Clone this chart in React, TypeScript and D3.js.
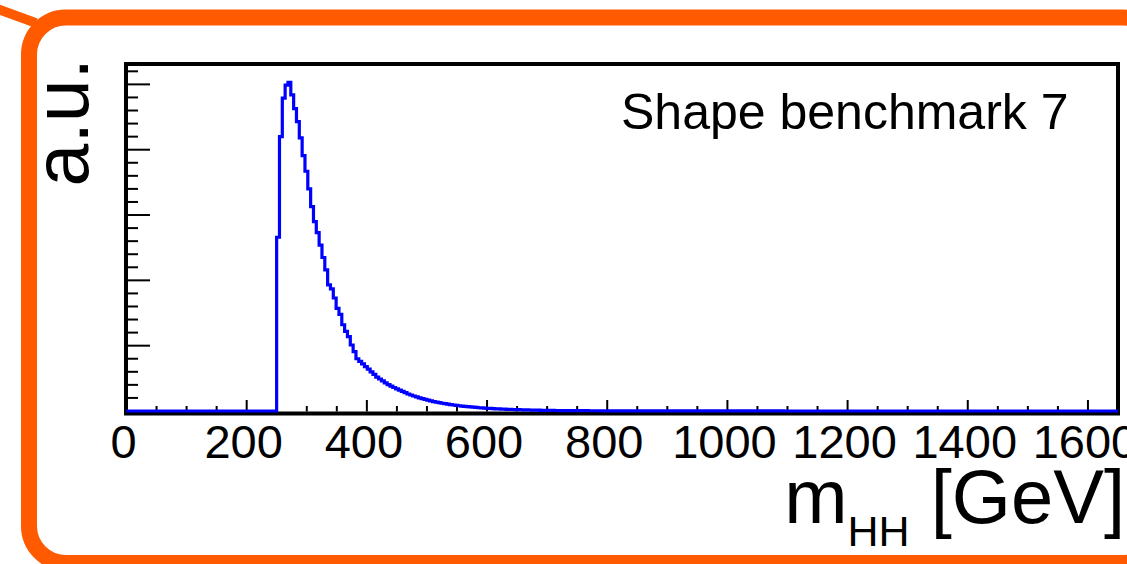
import React from 'react';
import * as d3 from 'd3';

// ---- Data (arbitrary units) ----
const X_MIN = 0;
const X_MAX = 1650;
const N_BINS = 350;
const FIRST_FILLED_BIN = 53; // bins below the 2*m_H threshold are empty

// bins 53 – 81
const peakValues = [
  2.66, 4.2, 4.79, 4.99, 5.03, 4.84, 4.63, 4.43, 4.18, 3.91,
  3.67, 3.4, 3.13, 2.9, 2.73, 2.54, 2.35, 2.16, 1.93, 1.87,
  1.73, 1.57, 1.48, 1.32, 1.22, 1.14, 1.01, 0.91, 0.8,
];
// bins 82 – 171
const tailValues = [
  0.76, 0.72, 0.68, 0.64, 0.6, 0.56, 0.52, 0.49, 0.46, 0.43,
  0.405, 0.38, 0.36, 0.34, 0.32, 0.3, 0.28, 0.26, 0.245, 0.23,
  0.215, 0.2, 0.19, 0.178, 0.166, 0.155, 0.145, 0.136, 0.127, 0.119,
  0.112, 0.105, 0.098, 0.092, 0.086, 0.08, 0.075, 0.07, 0.066, 0.062,
  0.058, 0.054, 0.05, 0.047, 0.044, 0.041, 0.039, 0.036, 0.034, 0.032,
  0.03, 0.028, 0.026, 0.024, 0.023, 0.021, 0.02, 0.019, 0.017, 0.016,
  0.015, 0.014, 0.013, 0.012, 0.011, 0.011, 0.01, 0.009, 0.009, 0.008,
  0.008, 0.007, 0.007, 0.007, 0.006, 0.006, 0.006, 0.005, 0.005, 0.005,
  0.005, 0.004, 0.004, 0.004, 0.004, 0.004, 0.003, 0.003, 0.003, 0.003,
];
// bins 172 – 231
const farTailValues = [
  0.003, 0.003, 0.003, 0.002, 0.003, 0.002, 0.002, 0.002, 0.002, 0.002,
  0.002, 0.002, 0.002, 0.001, 0.002, 0.001, 0.001, 0.002, 0.001, 0.001,
  0.001, 0.001, 0.001, 0.001, 0.001, 0.001, 0.001, 0.001, 0.001, 0.001,
  0.001, 0.001, 0.001, 0.001, 0.001, 0.001, 0.0005, 0.001, 0.0005, 0.0005,
  0.0005, 0.0005, 0.0005, 0.0005, 0.0005, 0.0005, 0.0005, 0.0005, 0.0005, 0.0005,
  0.0005, 0.0005, 0.0005, 0.0005, 0.0005, 0.0005, 0.0005, 0.0005, 0.0005, 0.0005,
];

const xTickValues = [0, 200, 400, 600, 800, 1000, 1200, 1400, 1600];
const xTickLabels = ['0', '200', '400', '600', '800', '1000', '1200', '1400', '1600'];
const yTitle = 'a.u.';
const xTitleMain = 'm';
const xTitleSub = 'HH';
const xTitleUnit = '\u00A0[GeV]';
const legendText = 'Shape benchmark 7';

const FONT = "'Liberation Sans', Arial, Helvetica, sans-serif";
const ORANGE = '#ff5a00';

export default function App() {
  const W = 1127;
  const H = 564;

  const x = d3.scaleLinear().domain([X_MIN, X_MAX]).range([126.5, 1118]);
  const y = d3.scaleLinear().domain([0, 5.312]).range([411, 64]);

  const binW = (X_MAX - X_MIN) / N_BINS;
  const filled = [...peakValues, ...tailValues, ...farTailValues];
  const contents = d3.range(N_BINS).map((i) => {
    const j = i - FIRST_FILLED_BIN;
    return j >= 0 && j < filled.length ? filled[j] : 0;
  });
  const pts: [number, number][] = contents.map((v, i) => [X_MIN + i * binW, v]);
  pts.push([X_MAX, contents[N_BINS - 1]]);

  const line = d3
    .line<[number, number]>()
    .x((d) => x(d[0]))
    .y((d) => y(d[1]))
    .curve(d3.curveStepAfter);

  const xMinor = d3.range(0, X_MAX + 1, 50);
  const yMinor = d3.range(0, 27).map((i) => ({ v: i * 0.2, major: i % 5 === 0 }));

  const frameBottom = 413.5;

  return (
    <svg
      width={W}
      height={H}
      viewBox={`0 0 ${W} ${H}`}
      style={{ position: 'absolute', left: 0, top: 0, background: '#fff' }}
    >
      <rect x={0} y={0} width={W} height={H} fill="#fff" />

      {/* orange slide border */}
      <line x1={-5} y1={8} x2={36} y2={23} stroke={ORANGE} strokeWidth={9.5} />
      <rect
        x={29}
        y={17.5}
        width={1160 - 29}
        height={563 - 17.5}
        rx={37}
        ry={37}
        fill="none"
        stroke={ORANGE}
        strokeWidth={16}
      />

      {/* frame */}
      <rect
        x={126}
        y={64}
        width={1118 - 126}
        height={frameBottom - 64}
        fill="none"
        stroke="#000"
        strokeWidth={4}
      />

      {/* x ticks */}
      {xMinor.map((v) => {
        const major = v % 200 === 0;
        return (
          <line
            key={'xt' + v}
            x1={x(v)}
            x2={x(v)}
            y1={411.5}
            y2={411.5 - (major ? 11.5 : 5.5)}
            stroke="#000"
            strokeWidth={2}
          />
        );
      })}

      {/* y ticks */}
      {yMinor.map((t) => (
        <line
          key={'yt' + t.v.toFixed(1)}
          x1={128}
          x2={128 + (t.major ? 22 : 10)}
          y1={y(t.v)}
          y2={y(t.v)}
          stroke="#000"
          strokeWidth={2}
        />
      ))}

      {/* histogram */}
      <path d={line(pts) || ''} fill="none" stroke="#0000ff" strokeWidth={3.2} strokeLinejoin="miter" />

      {/* x tick labels */}
      {xTickValues.map((v, i) => (
        <text
          key={'xl' + v}
          x={x(v) - 3}
          y={458}
          textAnchor="middle"
          fontFamily={FONT}
          fontSize={47}
          fill="#000"
        >
          {xTickLabels[i]}
        </text>
      ))}

      {/* legend text */}
      <text x={621} y={129} fontFamily={FONT} fontSize={50} fill="#000">
        {legendText}
      </text>

      {/* y title */}
      <text
        transform="translate(87.5,58) rotate(-90)"
        textAnchor="end"
        fontFamily={FONT}
        fontSize={77}
        fill="#000"
      >
        {yTitle}
      </text>

      {/* x title */}
      <text x={1125} y={523} textAnchor="end" fontFamily={FONT} fontSize={76} fill="#000">
        <tspan>{xTitleMain}</tspan>
        <tspan fontSize={43} dy={23}>
          {xTitleSub}
        </tspan>
        <tspan fontSize={76} dy={-23}>
          {xTitleUnit}
        </tspan>
      </text>
    </svg>
  );
}
